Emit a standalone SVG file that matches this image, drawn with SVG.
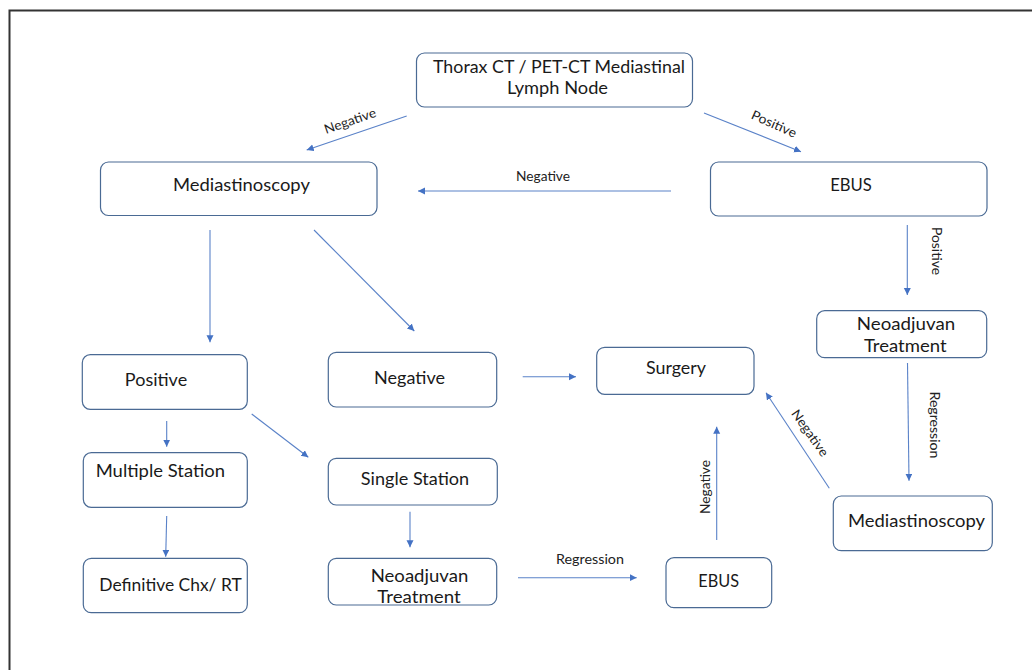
<svg xmlns="http://www.w3.org/2000/svg" width="1032" height="670" viewBox="0 0 1032 670">
<defs>
<marker id="ah" markerUnits="userSpaceOnUse" markerWidth="8" markerHeight="8" refX="7" refY="3.5" orient="auto">
<path d="M0,0 L7,3.5 L0,7 z" fill="#4472C4"/>
</marker>
<style>
.box{fill:#fff;stroke:#4a6a94;stroke-width:1.2}
.t{font-family:Lato,"Liberation Sans",sans-serif;font-size:18px;fill:#1a1a1a;text-anchor:middle}
.ts{text-anchor:start}
.lb{font-family:Lato,"Liberation Sans",sans-serif;font-size:13px;fill:#222;text-anchor:middle}
.c{stroke:#5a82c8;stroke-width:1.1;fill:none;marker-end:url(#ah)}
</style>
</defs>
<rect width="1032" height="670" fill="#fff"/>
<path d="M9.5,670 V10.5 H1032" fill="none" stroke="#333" stroke-width="2"/>

<g id="n-thorax">
<rect class="box" x="416.5" y="53" width="276" height="54" rx="8"/>
<text class="t" x="559" y="73.3" textLength="252" lengthAdjust="spacingAndGlyphs">Thorax CT / PET-CT Mediastinal</text>
<text class="t" x="557.5" y="94.3" textLength="101" lengthAdjust="spacingAndGlyphs">Lymph Node</text>
</g>
<g id="n-mediastinoscopy1">
<rect class="box" x="100.5" y="162" width="276.5" height="53.5" rx="8"/>
<text class="t" x="241.4" y="191" textLength="137" lengthAdjust="spacingAndGlyphs">Mediastinoscopy</text>
</g>
<g id="n-ebus1">
<rect class="box" x="710.5" y="162" width="276.5" height="54" rx="8"/>
<text class="t" x="851" y="191" textLength="41.7" lengthAdjust="spacingAndGlyphs">EBUS</text>
</g>
<g id="n-neoadjuvan1">
<rect class="box" x="816.7" y="310.7" width="170" height="47" rx="8"/>
<text class="t" x="906" y="330" textLength="98.3" lengthAdjust="spacingAndGlyphs">Neoadjuvan</text>
<text class="t" x="905.3" y="351.7" textLength="82.7" lengthAdjust="spacingAndGlyphs">Treatment</text>
</g>
<g id="n-mediastinoscopy2">
<rect class="box" x="833.3" y="496" width="159" height="54.7" rx="8"/>
<text class="t" x="916.5" y="526.7" textLength="137" lengthAdjust="spacingAndGlyphs">Mediastinoscopy</text>
</g>
<g id="n-surgery">
<rect class="box" x="596.7" y="347.3" width="157.3" height="47" rx="8"/>
<text class="t" x="676" y="374" textLength="60" lengthAdjust="spacingAndGlyphs">Surgery</text>
</g>
<g id="n-positive">
<rect class="box" x="82.3" y="354.7" width="165" height="54.6" rx="8"/>
<text class="t" x="156" y="385.7" textLength="62.3" lengthAdjust="spacingAndGlyphs">Positive</text>
</g>
<g id="n-negative">
<rect class="box" x="328.3" y="352.3" width="168.4" height="54.7" rx="8"/>
<text class="t" x="409.5" y="384" textLength="71" lengthAdjust="spacingAndGlyphs">Negative</text>
</g>
<g id="n-multiple">
<rect class="box" x="83.3" y="452.7" width="164" height="54.6" rx="8"/>
<text class="t ts" x="95.7" y="477.3" textLength="129.3" lengthAdjust="spacingAndGlyphs">Multiple Station</text>
</g>
<g id="n-single">
<rect class="box" x="328.3" y="458.3" width="169" height="46.7" rx="8"/>
<text class="t" x="415" y="485" textLength="108.3" lengthAdjust="spacingAndGlyphs">Single Station</text>
</g>
<g id="n-definitive">
<rect class="box" x="83.3" y="558.3" width="164" height="54.4" rx="8"/>
<text class="t ts" x="99.3" y="590.7" textLength="142.4" lengthAdjust="spacingAndGlyphs">Definitive Chx/ RT</text>
</g>
<g id="n-neoadjuvan2">
<rect class="box" x="328.3" y="558.3" width="168.4" height="46.7" rx="8"/>
<text class="t" x="419.5" y="582.3" textLength="97.6" lengthAdjust="spacingAndGlyphs">Neoadjuvan</text>
<text class="t" x="419" y="603.3" textLength="83.4" lengthAdjust="spacingAndGlyphs">Treatment</text>
</g>
<g id="n-ebus2">
<rect class="box" x="666" y="557.7" width="105.7" height="50" rx="8"/>
<text class="t" x="718.7" y="587.3" textLength="40.7" lengthAdjust="spacingAndGlyphs">EBUS</text>
</g>

<g id="connectors">
<line class="c" x1="406.7" y1="116" x2="306.7" y2="150"/>
<line class="c" x1="704" y1="113" x2="801" y2="151.7"/>
<line class="c" x1="671" y1="191" x2="418" y2="191"/>
<line class="c" x1="907.3" y1="225" x2="907.3" y2="295"/>
<line class="c" x1="907.5" y1="363" x2="909" y2="480.7"/>
<line class="c" x1="829.3" y1="488.3" x2="766" y2="392.7"/>
<line class="c" x1="716.7" y1="540" x2="716.7" y2="426.7"/>
<line class="c" x1="210" y1="230" x2="210" y2="342.3"/>
<line class="c" x1="314" y1="230" x2="414.3" y2="331"/>
<line class="c" x1="522.7" y1="376.7" x2="576" y2="376.7"/>
<line class="c" x1="166.7" y1="421" x2="166.7" y2="446.7"/>
<line class="c" x1="251.7" y1="414" x2="308.3" y2="457.3"/>
<line class="c" x1="166.7" y1="516" x2="165.7" y2="556.7"/>
<line class="c" x1="410" y1="511.7" x2="410" y2="547.3"/>
<line class="c" x1="518" y1="577.7" x2="636.7" y2="577.7"/>
<g id="labels">
<text class="lb" transform="translate(350,121) rotate(-19)" x="0" y="4.5" textLength="54" lengthAdjust="spacingAndGlyphs">Negative</text>
<text class="lb" transform="translate(774,124) rotate(24)" x="0" y="4.5" textLength="48" lengthAdjust="spacingAndGlyphs">Positive</text>
<text class="lb" x="543" y="180.7" textLength="54" lengthAdjust="spacingAndGlyphs">Negative</text>
<text class="lb" transform="translate(936,251) rotate(90)" x="0" y="4.5" textLength="48" lengthAdjust="spacingAndGlyphs">Positive</text>
<text class="lb" transform="translate(934,425) rotate(90)" x="0" y="4.5" textLength="67" lengthAdjust="spacingAndGlyphs">Regression</text>
<text class="lb" transform="translate(810,433) rotate(55)" x="0" y="4.5" textLength="54" lengthAdjust="spacingAndGlyphs">Negative</text>
<text class="lb" transform="translate(705,487) rotate(-90)" x="0" y="4.5" textLength="54" lengthAdjust="spacingAndGlyphs">Negative</text>
<text class="lb" x="590" y="564" textLength="68" lengthAdjust="spacingAndGlyphs">Regression</text>
</g>
</g>
</svg>
